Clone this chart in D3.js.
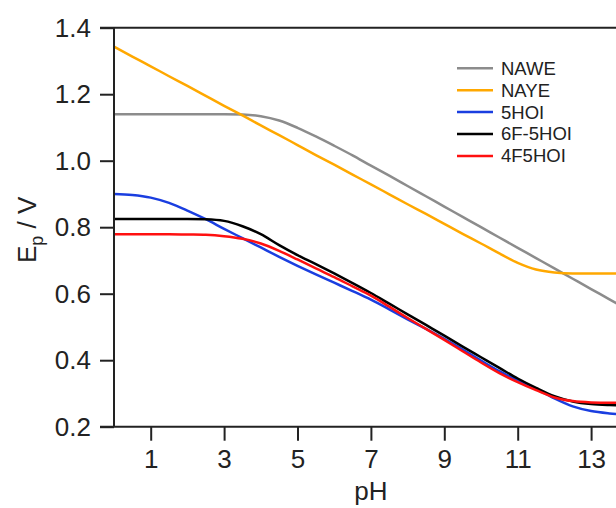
<!DOCTYPE html>
<html>
  <head>
    <style>
      body { margin: 0; background: #fff; }
      text { font-family: "Liberation Sans", Arial, sans-serif; fill: #222; }
    </style>
  </head>
  <body>
    <div id="my_dataviz"></div>
  </body>
</html>

<script src="https://d3js.org/d3.v7.min.js"></script>

<script>
// pH grid the curves were read at
var pH = [0, 0.5, 1, 1.5, 2, 2.5, 3, 3.5, 4, 4.5, 5, 5.5, 6, 6.5, 7, 7.5, 8, 8.5, 9, 9.5, 10, 10.5, 11, 11.5, 12, 12.5, 13, 13.5, 14];

var nawe    = [1.140, 1.140, 1.140, 1.140, 1.140, 1.140, 1.140, 1.139, 1.134, 1.121, 1.099, 1.073, 1.045, 1.016, 0.985, 0.955, 0.924, 0.893, 0.862, 0.831, 0.800, 0.769, 0.738, 0.707, 0.676, 0.645, 0.614, 0.583, 0.552];
var naye    = [1.343, 1.313, 1.284, 1.254, 1.225, 1.195, 1.165, 1.136, 1.106, 1.077, 1.047, 1.017, 0.988, 0.958, 0.929, 0.899, 0.869, 0.840, 0.810, 0.780, 0.751, 0.721, 0.693, 0.673, 0.664, 0.661, 0.661, 0.661, 0.661];
var hoi5    = [0.900, 0.897, 0.889, 0.873, 0.850, 0.824, 0.795, 0.767, 0.739, 0.711, 0.684, 0.658, 0.633, 0.608, 0.582, 0.553, 0.523, 0.494, 0.464, 0.432, 0.399, 0.367, 0.339, 0.314, 0.285, 0.261, 0.247, 0.240, 0.236];
var f6hoi5  = [0.825, 0.825, 0.825, 0.825, 0.825, 0.824, 0.819, 0.803, 0.779, 0.746, 0.716, 0.689, 0.661, 0.632, 0.602, 0.570, 0.538, 0.506, 0.474, 0.441, 0.409, 0.377, 0.345, 0.317, 0.292, 0.276, 0.268, 0.265, 0.264];
var f4hoi5  = [0.779, 0.779, 0.779, 0.779, 0.778, 0.777, 0.773, 0.765, 0.751, 0.729, 0.703, 0.676, 0.650, 0.622, 0.594, 0.561, 0.527, 0.494, 0.461, 0.427, 0.393, 0.361, 0.334, 0.310, 0.288, 0.277, 0.273, 0.272, 0.272];

var seriesNames  = ["NAWE", "NAYE", "5HOI", "6F-5HOI", "4F5HOI"];
var seriesValues = [nawe, naye, hoi5, f6hoi5, f4hoi5];
var seriesColors = ["#8c8c8c", "#ffa800", "#1a3ee0", "#000000", "#ff1010"];

var xTicks = [1, 3, 5, 7, 9, 11, 13];
var yTicks = [0.2, 0.4, 0.6, 0.8, 1.0, 1.2, 1.4];

// dimensions - plot runs past the right edge of the window like the original
var W = 616, H = 508;
var margin = {top: 27.7, left: 114},
    width = 14 * 36.7,
    height = 399;

var svg = d3.select("#my_dataviz")
  .append("svg")
    .attr("width", W)
    .attr("height", H)
  .append("g")
    .attr("transform", "translate(" + margin.left + "," + margin.top + ")");

var x = d3.scaleLinear().domain([0, 14]).range([0, width]);
var y = d3.scaleLinear().domain([0.2, 1.4]).range([height, 0]);

// curves
var line = d3.line()
  .x(function(d) { return x(d[0]); })
  .y(function(d) { return y(d[1]); })
  .curve(d3.curveMonotoneX);

seriesValues.forEach(function(vals, i) {
  svg.append("path")
    .datum(pH.map(function(p, j) { return [p, vals[j]]; }))
    .attr("fill", "none")
    .attr("stroke", seriesColors[i])
    .attr("stroke-width", 2.5)
    .attr("d", line);
});

// frame: top line
svg.append("line")
  .attr("x1", -14).attr("x2", width)
  .attr("y1", 0).attr("y2", 0)
  .attr("stroke", "#222").attr("stroke-width", 2);

// X axis
var xAxis = svg.append("g")
  .attr("transform", "translate(0," + height + ")")
  .call(d3.axisBottom(x).tickValues(xTicks).tickSize(14).tickPadding(9).tickFormat(d3.format("d")));
xAxis.select(".domain").remove();
xAxis.append("line")
  .attr("x1", -14).attr("x2", width)
  .attr("stroke", "#222").attr("stroke-width", 2);

// Y axis
var yAxis = svg.append("g")
  .call(d3.axisLeft(y).tickValues(yTicks).tickSize(14).tickPadding(9).tickFormat(d3.format(".1f")));
yAxis.select(".domain").remove();
yAxis.append("line")
  .attr("y1", 0).attr("y2", height)
  .attr("stroke", "#222").attr("stroke-width", 2);

svg.selectAll(".tick line").attr("stroke", "#222").attr("stroke-width", 2);
svg.selectAll(".tick text")
  .style("font-size", "26px")
  .style("font-family", "Liberation Sans, Arial, sans-serif")
  .attr("fill", "#222");

// axis titles
svg.append("text")
  .attr("x", x(7))
  .attr("y", 500 - margin.top)
  .attr("text-anchor", "middle")
  .style("font-size", "26px")
  .text("pH");

var yt = svg.append("text")
  .attr("transform", "translate(" + (36 - margin.left) + "," + (263 - margin.top) + ") rotate(-90)")
  .attr("text-anchor", "start")
  .style("font-size", "26px");
yt.append("tspan").text("E");
yt.append("tspan").attr("dy", 7).style("font-size", "18px").text("p");
yt.append("tspan").attr("dy", -7).text(" / V");

// legend
var legend = svg.append("g")
  .attr("transform", "translate(" + (457 - margin.left) + "," + (68.3 - margin.top) + ")");

seriesNames.forEach(function(name, i) {
  var row = legend.append("g").attr("transform", "translate(0," + (i * 21.9) + ")");
  row.append("line")
    .attr("x1", 0).attr("x2", 36)
    .attr("stroke", seriesColors[i])
    .attr("stroke-width", 2.5);
  row.append("text")
    .attr("x", 44)
    .attr("dy", "0.35em")
    .style("font-size", "18.5px")
    .text(name);
});
</script>
